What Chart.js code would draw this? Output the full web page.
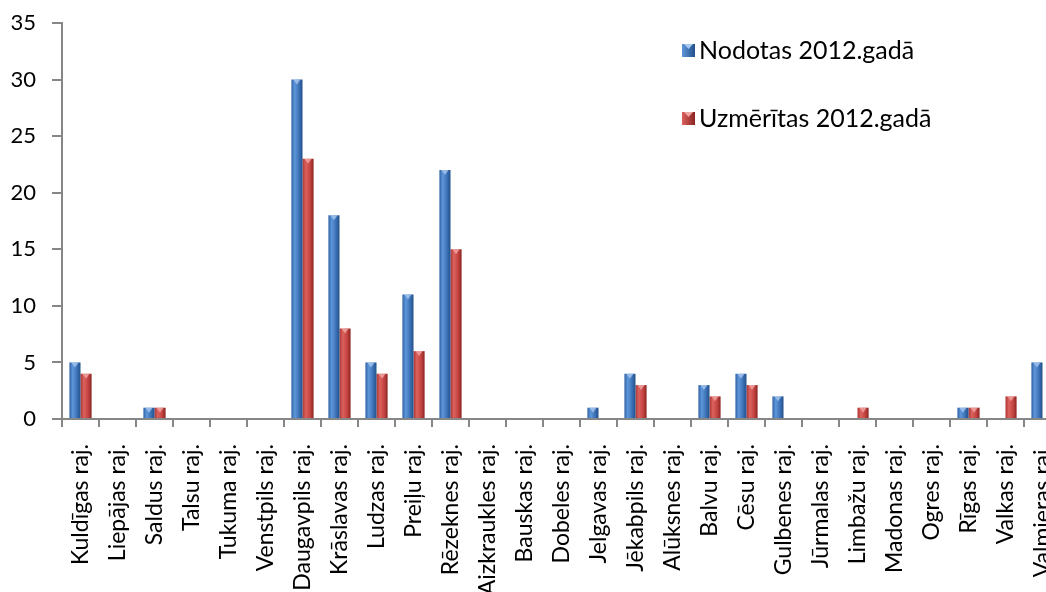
<!DOCTYPE html>
<html>
<head>
<meta charset="utf-8">
<script src="https://cdn.jsdelivr.net/npm/chart.js@4"></script>
<style>
  html, body { margin: 0; padding: 0; background: #fff; overflow: hidden; width: 1046px; height: 592px; }
  #wrap { position: absolute; left: 0; top: 0; width: 1075px; height: 640px; }
</style>
</head>
<body>
<div id="wrap"><canvas id="chart" width="1075" height="640"></canvas></div>
<script>
// rajoni (kategorijas)
const districts = [
    "Kuldīgas raj.", "Liepājas raj.", "Saldus raj.", "Talsu raj.", "Tukuma raj.",
    "Venstpils raj.", "Daugavpils raj.", "Krāslavas raj.", "Ludzas raj.", "Preiļu raj.",
    "Rēzeknes raj.", "Aizkraukles raj.", "Bauskas raj.", "Dobeles raj.", "Jelgavas raj.",
    "Jēkabpils raj.", "Alūksnes raj.", "Balvu raj.", "Cēsu raj.", "Gulbenes raj.",
    "Jūrmalas raj.", "Limbažu raj.", "Madonas raj.", "Ogres raj.", "Rīgas raj.",
    "Valkas raj.", "Valmieras raj."
];
const handedIn = [5, 0, 1, 0, 0, 0, 30, 18, 5, 11, 22, 0, 0, 0, 1, 4, 0, 3, 4, 2, 0, 0, 0, 0, 1, 0, 5];
const measured = [4, 0, 1, 0, 0, 0, 23, 8, 4, 6, 15, 0, 0, 0, 0, 3, 0, 2, 3, 0, 0, 1, 0, 0, 1, 2, 0];
const seriesNames = ["Nodotas 2012.gadā", "Uzmērītas 2012.gadā"];
const yTicks = [0, 5, 10, 15, 20, 25, 30, 35];

const FONT = "Lato, 'Open Sans', sans-serif";
const AXIS = "#868686";
const CANVAS_H = 640;

// krāsas: tumšā mala, gaišā vidusdaļa, tumšā mala
const palette = [
    { solid: "#4a7ebb", stops: ["#2f62a3", "#5f96da", "#3b70b4", "#22508a"], tip: "#a9c8f0" },
    { solid: "#c0504d", stops: ["#a83532", "#dc625e", "#c2423f", "#8a2421"], tip: "#f0a8a6" }
];

function barFill(ctx) {
    const chart = ctx.chart;
    const p = palette[ctx.datasetIndex];
    const xs = chart.scales.x;
    if (!chart.chartArea || !xs || ctx.dataIndex === undefined) return p.solid;
    const cat = xs.width / districts.length;
    const w = cat * 0.6 / 2;
    const center = xs.getPixelForValue(ctx.dataIndex) + (ctx.datasetIndex === 0 ? -w / 2 : w / 2);
    const g = chart.ctx.createLinearGradient(center - w / 2, 0, center + w / 2, 0);
    g.addColorStop(0, p.stops[0]);
    g.addColorStop(0.3, p.stops[1]);
    g.addColorStop(0.7, p.stops[2]);
    g.addColorStop(1, p.stops[3]);
    return g;
}

// mazais trīsstūris bāra augšā
const tipPlugin = {
    id: "tips",
    afterDatasetsDraw(chart) {
        const c = chart.ctx;
        chart.data.datasets.forEach((ds, di) => {
            chart.getDatasetMeta(di).data.forEach((bar, i) => {
                if (!ds.data[i]) return;
                const half = bar.width * 0.32;
                c.save();
                c.fillStyle = palette[di].tip;
                c.globalAlpha = 0.8;
                c.beginPath();
                c.moveTo(bar.x - half, bar.y);
                c.lineTo(bar.x + half, bar.y);
                c.lineTo(bar.x, bar.y + 5);
                c.closePath();
                c.fill();
                c.restore();
            });
        });
    }
};

// leģenda augšā pa labi, vertikāli
const legendPlugin = {
    id: "sideLegend",
    afterDraw(chart) {
        const c = chart.ctx;
        const left = 682, rows = [50, 118];
        c.save();
        c.font = "25px " + FONT;
        c.textBaseline = "middle";
        chart.data.datasets.forEach((ds, di) => {
            const y = rows[di];
            const g = c.createLinearGradient(left, 0, left + 13, 0);
            g.addColorStop(0, palette[di].stops[1]);
            g.addColorStop(1, palette[di].stops[3]);
            c.fillStyle = g;
            c.fillRect(left, y - 6, 13, 13);
            c.fillStyle = palette[di].tip;
            c.beginPath();
            c.moveTo(left + 2, y - 6);
            c.lineTo(left + 11, y - 6);
            c.lineTo(left + 6.5, y - 1);
            c.closePath();
            c.fill();
            c.fillStyle = "#000";
            c.fillText(ds.label, left + 17, y + 1);
        });
        c.restore();
    }
};

new Chart(document.getElementById("chart"), {
    type: "bar",
    data: {
        labels: districts,
        datasets: [
            { label: seriesNames[0], data: handedIn, backgroundColor: barFill },
            { label: seriesNames[1], data: measured, backgroundColor: barFill }
        ]
    },
    options: {
        responsive: false,
        animation: false,
        categoryPercentage: 0.6,
        barPercentage: 1.0,
        layout: { padding: { left: 0, right: 14, top: 23, bottom: 0 } },
        plugins: { legend: { display: false }, tooltip: { enabled: false } },
        scales: {
            x: {
                grid: { display: true, drawOnChartArea: false, offset: true, tickLength: 8, color: AXIS, lineWidth: 2 },
                border: { color: AXIS, width: 2 },
                ticks: {
                    autoSkip: false, minRotation: 90, maxRotation: 90, padding: 17,
                    color: "#000", font: { family: FONT, size: 23 }
                },
                afterFit(scale) {
                    scale.height = CANVAS_H - 419;
                    scale.paddingLeft = 0;
                    scale.paddingRight = 0;
                }
            },
            y: {
                min: 0, max: 35,
                afterBuildTicks(scale) { scale.ticks = yTicks.map(v => ({ value: v })); },
                grid: { drawOnChartArea: false, tickLength: 10, color: AXIS, lineWidth: 2 },
                border: { color: AXIS, width: 2 },
                ticks: { padding: 16, color: "#000", font: { family: FONT, size: 22 } },
                afterFit(scale) {
                    scale.width = 62;
                    scale.paddingTop = 0;
                    scale.paddingBottom = 0;
                }
            }
        }
    },
    plugins: [tipPlugin, legendPlugin]
});
</script>
</body>
</html>
